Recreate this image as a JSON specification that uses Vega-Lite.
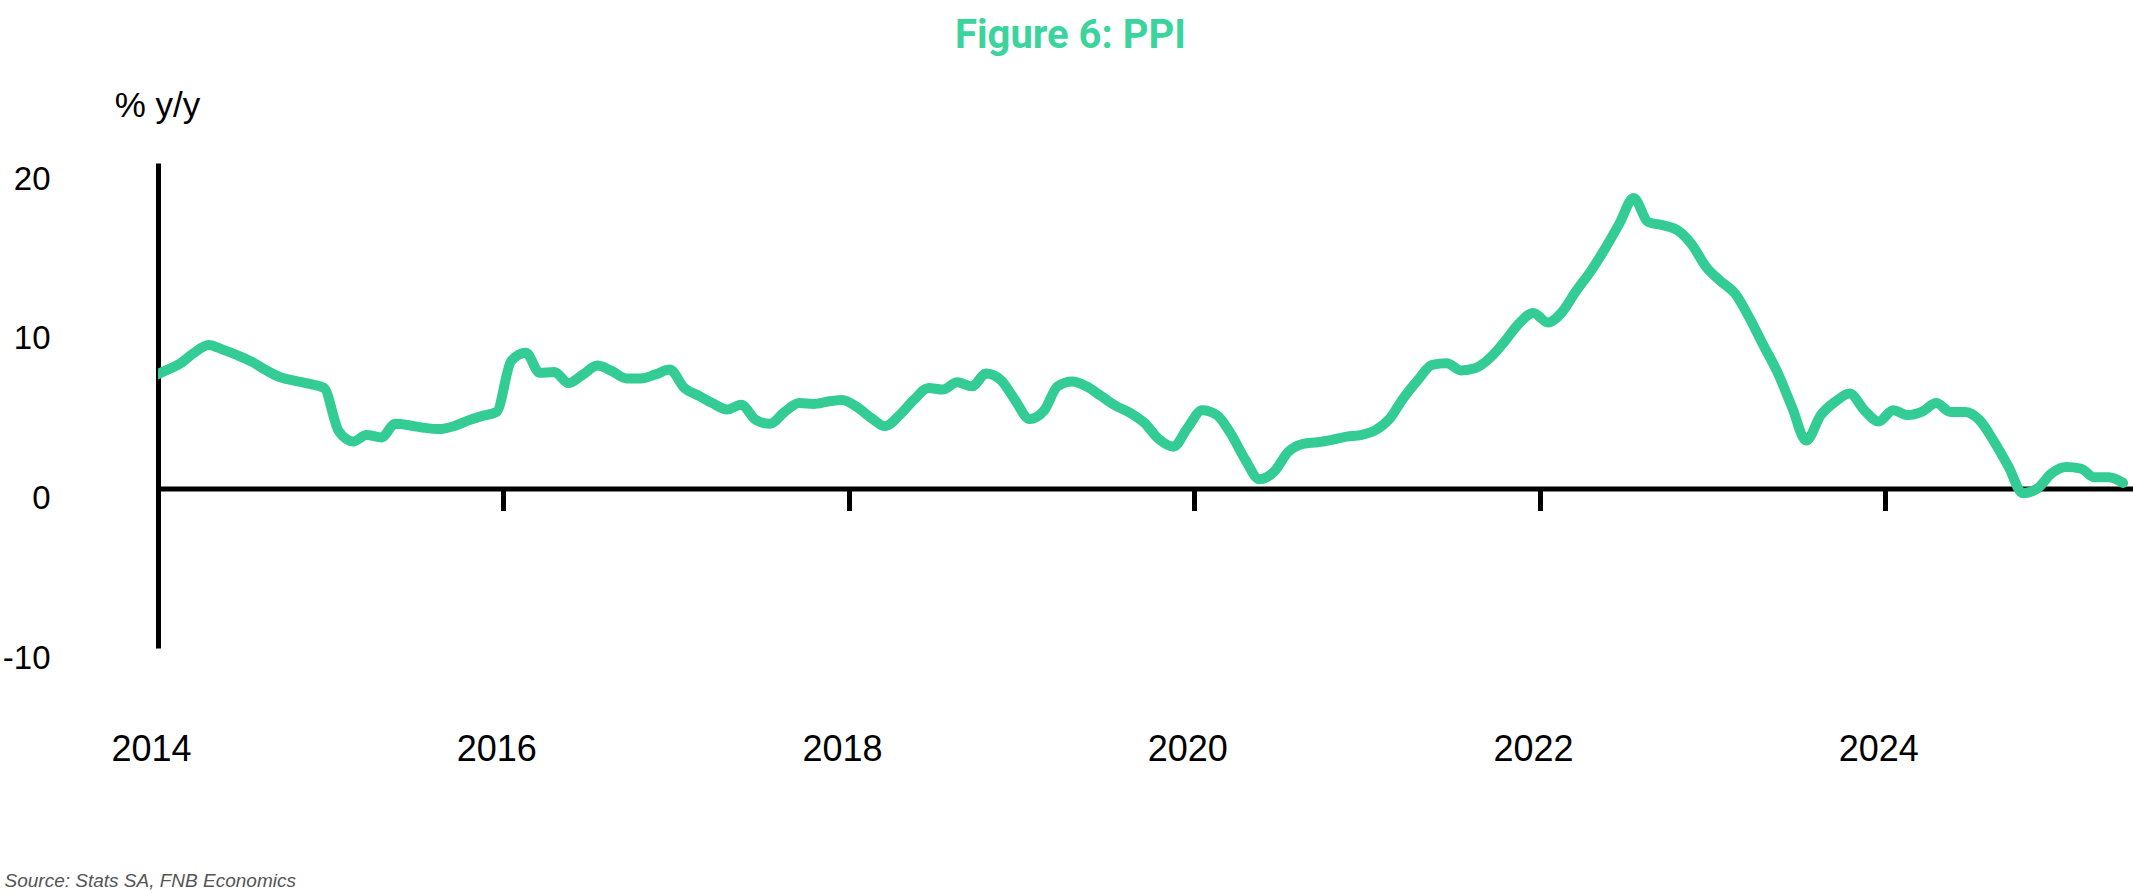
{
  "$schema": "https://vega.github.io/schema/vega-lite/v6.json",
  "width": 1975,
  "height": 485,
  "autosize": {"type": "none"},
  "padding": {"left": 158, "top": 163, "right": 0, "bottom": 245},
  "background": "white",
  "title": {"text": "Figure 6: PPI", "font": "Roboto", "fontSize": 40, "fontWeight": "bold", "color": "#3BD49D", "anchor": "middle", "frame": "group", "dx": -75, "offset": 0, "baseline": "alphabetic"},
  "config": {"view": {"stroke": null}},
  "data": {"values": [
    {"date": "2013-12-18", "v": 7.0},
    {"date": "2014-01-18", "v": 7.4},
    {"date": "2014-02-18", "v": 7.85},
    {"date": "2014-03-18", "v": 8.5},
    {"date": "2014-04-18", "v": 9.0},
    {"date": "2014-05-18", "v": 8.7},
    {"date": "2014-06-18", "v": 8.35},
    {"date": "2014-07-18", "v": 7.95},
    {"date": "2014-08-18", "v": 7.4},
    {"date": "2014-09-18", "v": 6.95},
    {"date": "2014-10-18", "v": 6.75},
    {"date": "2014-11-18", "v": 6.55},
    {"date": "2014-12-18", "v": 6.3},
    {"date": "2015-01-18", "v": 3.6},
    {"date": "2015-02-18", "v": 2.95},
    {"date": "2015-03-18", "v": 3.35},
    {"date": "2015-04-18", "v": 3.2},
    {"date": "2015-05-18", "v": 4.05},
    {"date": "2015-06-18", "v": 3.95},
    {"date": "2015-07-18", "v": 3.8},
    {"date": "2015-08-18", "v": 3.72},
    {"date": "2015-09-18", "v": 3.9},
    {"date": "2015-10-18", "v": 4.25},
    {"date": "2015-11-18", "v": 4.55},
    {"date": "2015-12-18", "v": 4.8},
    {"date": "2016-01-18", "v": 8.0},
    {"date": "2016-02-18", "v": 8.5},
    {"date": "2016-03-18", "v": 7.25},
    {"date": "2016-04-18", "v": 7.3},
    {"date": "2016-05-18", "v": 6.6},
    {"date": "2016-06-18", "v": 7.15},
    {"date": "2016-07-18", "v": 7.7},
    {"date": "2016-08-18", "v": 7.35},
    {"date": "2016-09-18", "v": 6.9},
    {"date": "2016-10-18", "v": 6.9},
    {"date": "2016-11-18", "v": 7.15},
    {"date": "2016-12-18", "v": 7.45},
    {"date": "2017-01-18", "v": 6.3},
    {"date": "2017-02-18", "v": 5.8},
    {"date": "2017-03-18", "v": 5.35},
    {"date": "2017-04-18", "v": 4.95},
    {"date": "2017-05-18", "v": 5.25},
    {"date": "2017-06-18", "v": 4.3},
    {"date": "2017-07-18", "v": 4.05},
    {"date": "2017-08-18", "v": 4.8},
    {"date": "2017-09-18", "v": 5.35},
    {"date": "2017-10-18", "v": 5.3},
    {"date": "2017-11-18", "v": 5.45},
    {"date": "2017-12-18", "v": 5.55},
    {"date": "2018-01-18", "v": 5.1},
    {"date": "2018-02-18", "v": 4.4},
    {"date": "2018-03-18", "v": 3.9},
    {"date": "2018-04-18", "v": 4.6},
    {"date": "2018-05-18", "v": 5.55},
    {"date": "2018-06-18", "v": 6.3},
    {"date": "2018-07-18", "v": 6.2},
    {"date": "2018-08-18", "v": 6.65},
    {"date": "2018-09-18", "v": 6.4},
    {"date": "2018-10-18", "v": 7.2},
    {"date": "2018-11-18", "v": 6.8},
    {"date": "2018-12-18", "v": 5.55},
    {"date": "2019-01-18", "v": 4.35},
    {"date": "2019-02-18", "v": 4.9},
    {"date": "2019-03-18", "v": 6.4},
    {"date": "2019-04-18", "v": 6.7},
    {"date": "2019-05-18", "v": 6.4},
    {"date": "2019-06-18", "v": 5.8},
    {"date": "2019-07-18", "v": 5.2},
    {"date": "2019-08-18", "v": 4.75},
    {"date": "2019-09-18", "v": 4.1},
    {"date": "2019-10-18", "v": 3.1},
    {"date": "2019-11-18", "v": 2.62},
    {"date": "2019-12-18", "v": 3.8},
    {"date": "2020-01-18", "v": 4.9},
    {"date": "2020-02-18", "v": 4.6},
    {"date": "2020-03-18", "v": 3.45},
    {"date": "2020-04-18", "v": 1.8},
    {"date": "2020-05-18", "v": 0.58},
    {"date": "2020-06-18", "v": 1.05},
    {"date": "2020-07-18", "v": 2.3},
    {"date": "2020-08-18", "v": 2.8},
    {"date": "2020-09-18", "v": 2.9},
    {"date": "2020-10-18", "v": 3.05},
    {"date": "2020-11-18", "v": 3.25},
    {"date": "2020-12-18", "v": 3.35},
    {"date": "2021-01-18", "v": 3.65},
    {"date": "2021-02-18", "v": 4.4},
    {"date": "2021-03-18", "v": 5.65},
    {"date": "2021-04-18", "v": 6.8},
    {"date": "2021-05-18", "v": 7.75},
    {"date": "2021-06-18", "v": 7.85},
    {"date": "2021-07-18", "v": 7.4},
    {"date": "2021-08-18", "v": 7.55},
    {"date": "2021-09-18", "v": 8.2},
    {"date": "2021-10-18", "v": 9.2},
    {"date": "2021-11-18", "v": 10.35},
    {"date": "2021-12-18", "v": 11.0},
    {"date": "2022-01-18", "v": 10.4},
    {"date": "2022-02-18", "v": 11.1},
    {"date": "2022-03-18", "v": 12.35},
    {"date": "2022-04-18", "v": 13.6},
    {"date": "2022-05-18", "v": 15.0},
    {"date": "2022-06-18", "v": 16.6},
    {"date": "2022-07-18", "v": 18.2},
    {"date": "2022-08-18", "v": 16.7},
    {"date": "2022-09-18", "v": 16.5},
    {"date": "2022-10-18", "v": 16.2},
    {"date": "2022-11-18", "v": 15.3},
    {"date": "2022-12-18", "v": 13.9},
    {"date": "2023-01-18", "v": 13.0},
    {"date": "2023-02-18", "v": 12.2},
    {"date": "2023-03-18", "v": 10.8},
    {"date": "2023-04-18", "v": 9.0},
    {"date": "2023-05-18", "v": 7.3},
    {"date": "2023-06-18", "v": 5.1},
    {"date": "2023-07-18", "v": 3.0},
    {"date": "2023-08-18", "v": 4.6},
    {"date": "2023-09-18", "v": 5.45},
    {"date": "2023-10-18", "v": 5.95},
    {"date": "2023-11-18", "v": 4.9},
    {"date": "2023-12-18", "v": 4.2},
    {"date": "2024-01-18", "v": 4.9},
    {"date": "2024-02-18", "v": 4.6},
    {"date": "2024-03-18", "v": 4.8},
    {"date": "2024-04-18", "v": 5.35},
    {"date": "2024-05-18", "v": 4.8},
    {"date": "2024-06-18", "v": 4.8},
    {"date": "2024-07-18", "v": 4.3},
    {"date": "2024-08-18", "v": 2.95},
    {"date": "2024-09-18", "v": 1.35},
    {"date": "2024-10-18", "v": -0.3},
    {"date": "2024-11-18", "v": 0.0},
    {"date": "2024-12-18", "v": 0.95},
    {"date": "2025-01-18", "v": 1.35},
    {"date": "2025-02-18", "v": 1.25},
    {"date": "2025-03-18", "v": 0.7},
    {"date": "2025-04-18", "v": 0.7},
    {"date": "2025-05-18", "v": 0.35}
  ]},
  "mark": {"type": "line", "color": "#33CC95", "strokeWidth": 10, "strokeCap": "round", "strokeJoin": "round", "interpolate": "monotone", "clip": true},
  "encoding": {
    "x": {
      "field": "date", "type": "temporal",
      "scale": {"type": "utc", "domain": [{"year": 2014, "month": 1, "date": 1, "utc": true}, {"year": 2025, "month": 6, "date": 8, "utc": true}]},
      "axis": {
        "values": [
          {"year": 2014, "month": 1, "date": 1, "utc": true},
          {"year": 2016, "month": 1, "date": 1, "utc": true},
          {"year": 2018, "month": 1, "date": 1, "utc": true},
          {"year": 2020, "month": 1, "date": 1, "utc": true},
          {"year": 2022, "month": 1, "date": 1, "utc": true},
          {"year": 2024, "month": 1, "date": 1, "utc": true}
        ],
        "format": "%Y",
        "offset": -159.5,
        "grid": false,
        "domainColor": "#000000", "domainWidth": 5,
        "tickColor": "#000000", "tickWidth": 5, "tickSize": 22,
        "labelFont": "Liberation Sans", "labelFontSize": 36, "labelColor": "#000000",
        "labelPadding": 222, "labelOffset": -7, "labelFlush": false, "labelOverlap": false,
        "title": "Source: Stats SA, FNB Economics",
        "titleFont": "Liberation Sans", "titleFontStyle": "italic", "titleFontWeight": "normal",
        "titleFontSize": 19, "titleColor": "#555555",
        "titleAlign": "left", "titleAnchor": "start", "titleX": -154, "titleY": 392, "titleBaseline": "middle"
      }
    },
    "y": {
      "field": "v", "type": "quantitative",
      "scale": {"domain": [-10, 20.4], "nice": false, "zero": false},
      "axis": {
        "values": [-10, 0, 10, 20],
        "labelExpr": "datum.value < 0 ? '-' + abs(datum.value) : datum.label",
        "grid": false, "ticks": false, "tickSize": 0,
        "domainColor": "#000000", "domainWidth": 5,
        "labelFont": "Liberation Sans", "labelFontSize": 33, "labelColor": "#000000",
        "labelPadding": 108, "labelOffset": 10,
        "title": "% y/y", "titleAngle": 0, "titleFont": "Liberation Sans", "titleFontSize": 35,
        "titleFontWeight": "normal", "titleColor": "#000000",
        "titleAlign": "center", "titleBaseline": "middle", "titleX": -1, "titleY": -58
      }
    }
  }
}
